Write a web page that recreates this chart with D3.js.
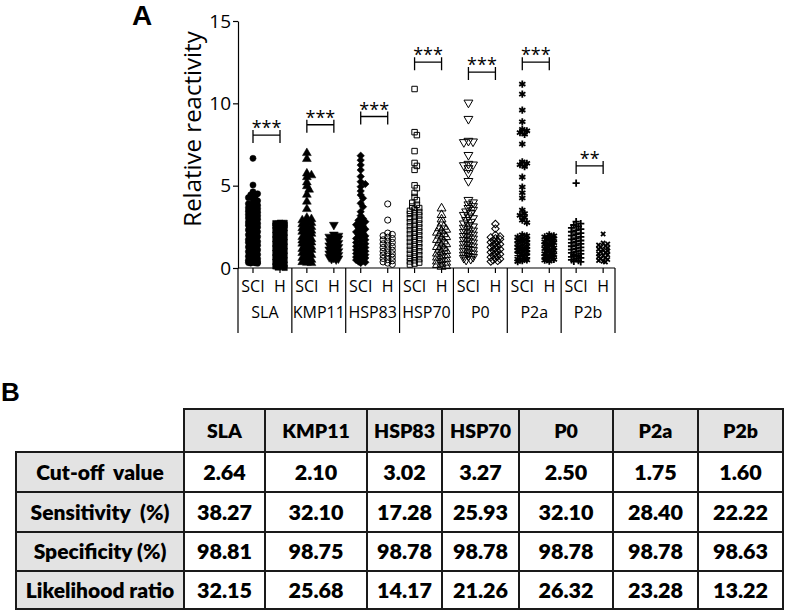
<!DOCTYPE html>
<html>
<head>
<meta charset="utf-8">
<script src="https://cdn.jsdelivr.net/npm/d3@7"></script>
<style>
  body { margin: 0; background: #fff; }
  svg  { display: block; font-family: "Open Sans", sans-serif; }
</style>
</head>
<body>
<script>
(function() {

/* data */
var groups   = ["SLA", "KMP11", "HSP83", "HSP70", "P0", "P2a", "P2b"],
    subjects = ["SCI", "H"],
    yTicks   = [0, 5, 10, 15];

var sciSLA = [6.66, 5.04, 4.63, 4.51, 4.44, 4.36, 4.27, 4.19, 4.08, 3.96, 3.9, 3.81, 3.74, 3.66, 3.6, 3.52, 3.45, 3.38, 3.3, 3.24, 3.17, 3.09, 3.03, 2.96, 2.9, 2.85, 2.79, 2.74, 2.71, 2.68, 2.66, 2.6, 2.54, 2.48, 2.43, 2.37, 2.31, 2.26, 2.2, 2.13, 2.07, 2.02, 1.96, 1.9, 1.84, 1.79, 1.73, 1.66, 1.61, 1.55, 1.49, 1.44, 1.38, 1.33, 1.27, 1.21, 1.16, 1.1, 1.04, 0.99, 0.93, 0.88, 0.82, 0.77, 0.71, 0.66, 0.61, 0.56, 0.52, 0.47, 0.43, 0.4, 0.37, 0.35, 0.33, 0.31, 0.3, 0.29];
var hSLA = [2.75, 2.74, 2.72, 2.71, 2.69, 2.66, 2.61, 2.57, 2.52, 2.46, 2.41, 2.35, 2.3, 2.24, 2.19, 2.13, 2.08, 2.02, 1.97, 1.91, 1.86, 1.8, 1.75, 1.69, 1.64, 1.58, 1.53, 1.47, 1.42, 1.36, 1.31, 1.25, 1.2, 1.14, 1.09, 1.03, 0.98, 0.92, 0.87, 0.81, 0.76, 0.7, 0.65, 0.59, 0.54, 0.48, 0.43, 0.37, 0.32, 0.26, 0.21, 0.15, 0.1, 0.06, 0.03, 0.01];
var sciKMP11 = [6.98, 6.62, 5.74, 5.63, 5.52, 5.2, 4.97, 4.76, 4.45, 4.03, 3.58, 3.05, 2.97, 2.9, 2.82, 2.74, 2.66, 2.57, 2.49, 2.42, 2.34, 2.27, 2.2, 2.14, 2.08, 2.01, 1.95, 1.88, 1.81, 1.75, 1.68, 1.61, 1.55, 1.48, 1.42, 1.35, 1.29, 1.22, 1.16, 1.1, 1.03, 0.97, 0.91, 0.85, 0.79, 0.73, 0.67, 0.61, 0.55, 0.5, 0.45, 0.4, 0.36, 0.32, 0.3];
var hKMP11 = [2.62, 2.03, 1.96, 1.9, 1.85, 1.79, 1.74, 1.68, 1.63, 1.58, 1.52, 1.47, 1.42, 1.37, 1.32, 1.27, 1.22, 1.17, 1.12, 1.07, 1.02, 0.97, 0.92, 0.88, 0.83, 0.79, 0.74, 0.7, 0.66, 0.62, 0.58, 0.55, 0.52];
var sciHSP83 = [6.82, 6.55, 6.25, 5.95, 5.55, 5.24, 5.1, 4.94, 4.67, 4.43, 4.23, 3.93, 3.72, 3.42, 3.18, 3.0, 2.9, 2.81, 2.72, 2.63, 2.54, 2.45, 2.36, 2.28, 2.19, 2.11, 2.03, 1.95, 1.87, 1.79, 1.71, 1.63, 1.55, 1.47, 1.4, 1.32, 1.24, 1.17, 1.09, 1.02, 0.95, 0.88, 0.81, 0.74, 0.67, 0.61, 0.55, 0.49, 0.44, 0.39, 0.35, 0.31];
var hHSP83 = [3.89, 2.91, 2.12, 2.04, 1.96, 1.87, 1.79, 1.71, 1.63, 1.55, 1.47, 1.39, 1.31, 1.24, 1.16, 1.08, 1.01, 0.93, 0.86, 0.79, 0.72, 0.65, 0.58, 0.51, 0.44, 0.37, 0.3, 0.22];
var sciHSP70 = [10.87, 8.25, 8.07, 7.1, 6.38, 6.2, 5.96, 5.02, 4.85, 4.56, 4.31, 4.12, 3.96, 3.84, 3.73, 3.64, 3.55, 3.47, 3.4, 3.33, 3.28, 3.19, 3.1, 3.02, 2.94, 2.86, 2.78, 2.7, 2.62, 2.54, 2.46, 2.38, 2.3, 2.22, 2.14, 2.06, 1.98, 1.9, 1.82, 1.74, 1.66, 1.58, 1.5, 1.42, 1.34, 1.26, 1.18, 1.1, 1.02, 0.94, 0.86, 0.78, 0.7, 0.62, 0.54, 0.47, 0.4, 0.33, 0.27, 0.21];
var hHSP70 = [3.62, 3.22, 2.95, 2.71, 2.51, 2.42, 2.33, 2.24, 2.15, 2.06, 1.97, 1.88, 1.8, 1.71, 1.62, 1.54, 1.45, 1.37, 1.28, 1.2, 1.12, 1.04, 0.96, 0.88, 0.8, 0.72, 0.64, 0.56, 0.48, 0.4, 0.33, 0.26, 0.19, 0.12, 0.08];
var sciP0 = [10.04, 9.05, 7.72, 7.68, 7.64, 6.86, 6.32, 6.28, 6.24, 6.06, 5.76, 5.28, 4.13, 3.98, 3.86, 3.75, 3.64, 3.53, 3.43, 3.33, 3.22, 3.12, 3.02, 2.91, 2.8, 2.7, 2.6, 2.52, 2.44, 2.35, 2.27, 2.19, 2.1, 2.02, 1.94, 1.86, 1.78, 1.7, 1.62, 1.54, 1.46, 1.38, 1.3, 1.23, 1.15, 1.08, 1.01, 0.94, 0.87, 0.8, 0.73, 0.67, 0.61, 0.55, 0.5];
var hP0 = [2.67, 2.39, 2.01, 1.92, 1.86, 1.8, 1.74, 1.68, 1.62, 1.56, 1.5, 1.44, 1.38, 1.32, 1.26, 1.2, 1.14, 1.08, 1.02, 0.96, 0.9, 0.84, 0.78, 0.72, 0.66, 0.6, 0.54, 0.48, 0.43, 0.39];
var sciP2a = [11.17, 10.56, 9.59, 8.88, 8.42, 8.33, 8.22, 8.12, 7.53, 6.45, 6.36, 6.27, 6.16, 5.52, 4.92, 4.57, 4.25, 3.52, 3.31, 3.2, 3.08, 2.9, 2.76, 2.02, 1.95, 1.88, 1.81, 1.74, 1.67, 1.6, 1.53, 1.46, 1.39, 1.32, 1.26, 1.19, 1.12, 1.05, 0.99, 0.92, 0.85, 0.79, 0.72, 0.66, 0.6, 0.54, 0.49, 0.44, 0.39];
var hP2a = [2.02, 1.95, 1.89, 1.83, 1.77, 1.71, 1.65, 1.59, 1.53, 1.47, 1.41, 1.35, 1.29, 1.23, 1.17, 1.11, 1.05, 0.99, 0.93, 0.87, 0.81, 0.75, 0.69, 0.63, 0.57, 0.52, 0.47, 0.42];
var sciP2b = [5.15, 2.82, 2.7, 2.61, 2.52, 2.44, 2.36, 2.28, 2.2, 2.12, 2.05, 1.97, 1.89, 1.82, 1.74, 1.67, 1.6, 1.53, 1.46, 1.39, 1.32, 1.25, 1.18, 1.12, 1.05, 0.98, 0.92, 0.86, 0.79, 0.73, 0.67, 0.61, 0.55, 0.49, 0.44, 0.4, 0.37];
var hP2b = [2.06, 1.52, 1.46, 1.4, 1.34, 1.28, 1.22, 1.16, 1.1, 1.04, 0.98, 0.92, 0.86, 0.8, 0.74, 0.68, 0.62, 0.56, 0.51, 0.46, 0.41, 0.37];

var sigLabels  = ["***", "***", "***", "***", "***", "***", "**"],
    sigHeights = [8.07, 8.7, 9.2, 12.5, 11.9, 12.5, 6.2];

var rowLabels   = ["Cut-off  value", "Sensitivity  (%)", "Specificity (%)", "Likelihood ratio"],
    cutoff      = [2.64, 2.10, 3.02, 3.27, 2.50, 1.75, 1.60],
    sensitivity = [38.27, 32.10, 17.28, 25.93, 32.10, 28.40, 22.22],
    specificity = [98.81, 98.75, 98.78, 98.78, 98.78, 98.78, 98.63],
    likelihood  = [32.15, 25.68, 14.17, 21.26, 26.32, 23.28, 13.22];

var columns = [
  [sciSLA, hSLA], [sciKMP11, hKMP11], [sciHSP83, hHSP83], [sciHSP70, hHSP70],
  [sciP0, hP0], [sciP2a, hP2a], [sciP2b, hP2b]
];
var tableRows = [cutoff, sensitivity, specificity, likelihood];

/* marker per group: [SCI, H] */
var markers = [
  [{s: "circle", f: 1}, {s: "square", f: 1}],
  [{s: "tri", f: 1}, {s: "triDown", f: 1}],
  [{s: "diamond", f: 1}, {s: "circle", f: 0}],
  [{s: "square", f: 0}, {s: "tri", f: 0}],
  [{s: "triDown", f: 0}, {s: "diamond", f: 0}],
  [{s: "asterisk", f: 0}, {s: "asterisk", f: 0}],
  [{s: "plus", f: 0}, {s: "times", f: 0}]
];

var width = 789, height = 613;

var svg = d3.select("body").append("svg")
    .attr("width", width)
    .attr("height", height);

var y  = d3.scaleLinear().domain([0, 15]).range([268, 21]),
    xg = d3.scaleBand().domain(groups).range([238, 615]),
    xs = d3.scalePoint().domain(subjects).range([15, 42]);

function lines(r, angles) {
  return angles.map(function(a) {
    var c = Math.cos(a * Math.PI / 180) * r, s = Math.sin(a * Math.PI / 180) * r;
    return "M" + (-c) + "," + (-s) + "L" + c + "," + s;
  }).join("");
}

function markerPath(name) {
  switch (name) {
    case "circle":   return d3.symbol().type(d3.symbolCircle).size(30)();
    case "square":   return d3.symbol().type(d3.symbolSquare).size(30)();
    case "diamond":  return d3.symbol().type(d3.symbolSquare).size(28)();
    case "tri":
    case "triDown":  return d3.symbol().type(d3.symbolTriangle).size(34)();
    case "asterisk": return lines(3.6, [90, 30, -30]);
    case "plus":     return lines(3.6, [0, 90]);
    case "times":    return lines(3, [45, 135]);
  }
}

function markerRot(name) {
  return name === "diamond" ? 45 : name === "triDown" ? 180 : 0;
}

/* spread points sideways so they do not pile up */
function swarm(vals, cx) {
  var placed = [], offs = [0, 2.3, -2.3, 4.6, -4.6];
  vals.slice().sort(d3.descending).forEach(function(v) {
    var py = y(v), best = cx, bestD = -1;
    for (var i = 0; i < offs.length; i++) {
      var px = cx + offs[i], dmin = Infinity;
      placed.forEach(function(p) {
        var d = Math.hypot(p[0] - px, p[1] - py);
        if (d < dmin) dmin = d;
      });
      if (dmin >= 3.6) { best = px; break; }
      if (dmin > bestD) { bestD = dmin; best = px; }
    }
    placed.push([best, py]);
  });
  return placed;
}

/* panel A */
svg.append("text")
    .attr("x", 132).attr("y", 25)
    .style("font-family", "'Liberation Sans', Arial, sans-serif")
    .style("font-weight", "bold").style("font-size", "28px")
    .text("A");

var yAxis = svg.append("g")
    .attr("transform", "translate(238,0)")
    .call(d3.axisLeft(y).tickValues(yTicks).tickSize(5).tickSizeOuter(0).tickPadding(2));
yAxis.selectAll("text").style("font-size", "19px").style("font-family", "'Open Sans', sans-serif").attr("fill", "#000");
yAxis.selectAll("line, path").attr("stroke", "#000").attr("stroke-width", 1.2);

svg.append("text")
    .attr("transform", "translate(201,129) rotate(-90)")
    .attr("text-anchor", "middle")
    .style("font-size", "24px")
    .text("Relative reactivity");

/* x axis with group separators */
var axisG = svg.append("g").attr("stroke", "#000").attr("stroke-width", 1.2);
axisG.append("line").attr("x1", 238).attr("x2", 615).attr("y1", y(0)).attr("y2", y(0));
axisG.append("line").attr("x1", 238).attr("x2", 238).attr("y1", y(0)).attr("y2", 333);
groups.forEach(function(g) {
  var x0 = xg(g);
  axisG.append("line").attr("x1", x0 + xg.bandwidth()).attr("x2", x0 + xg.bandwidth())
      .attr("y1", y(0)).attr("y2", 333);
  subjects.forEach(function(s) {
    axisG.append("line").attr("x1", x0 + xs(s)).attr("x2", x0 + xs(s))
        .attr("y1", y(0)).attr("y2", y(0) + 5);
    svg.append("text").attr("x", x0 + xs(s)).attr("y", 292)
        .attr("text-anchor", "middle").style("font-size", "16px").text(s);
  });
  svg.append("text").attr("x", x0 + xg.bandwidth() / 2).attr("y", 318)
      .attr("text-anchor", "middle").style("font-size", "16px").text(g);
});

/* points */
columns.forEach(function(pair, gi) {
  pair.forEach(function(vals, si) {
    var m = markers[gi][si],
        cx = xg(groups[gi]) + xs(subjects[si]),
        stroked = ["asterisk", "plus", "times"].indexOf(m.s) >= 0;
    svg.append("g").selectAll("path")
      .data(swarm(vals, cx))
      .enter()
      .append("path")
        .attr("d", markerPath(m.s))
        .attr("transform", function(d) { return "translate(" + d[0] + "," + d[1] + ") rotate(" + markerRot(m.s) + ")"; })
        .attr("fill", m.f ? "#000" : "none")
        .attr("stroke", "#000")
        .attr("stroke-width", stroked ? 1.8 : (m.f ? 0.5 : 1));
  });
});

/* significance brackets */
groups.forEach(function(g, i) {
  var x1 = xg(g) + xs("SCI"), x2 = xg(g) + xs("H"), yl = y(sigHeights[i]);
  svg.append("path")
      .attr("d", "M" + x1 + "," + (yl - 5) + "V" + (yl + 8) + "M" + x1 + "," + yl + "H" + x2 +
                 "M" + x2 + "," + (yl - 5) + "V" + (yl + 8))
      .attr("fill", "none").attr("stroke", "#000").attr("stroke-width", 1.3);
  svg.append("text").attr("x", (x1 + x2) / 2).attr("y", yl - 1)
      .attr("text-anchor", "middle").style("font-size", "18px").text(sigLabels[i]);
});

/* panel B */
svg.append("text")
    .attr("x", 1).attr("y", 401)
    .style("font-family", "'Liberation Sans', Arial, sans-serif")
    .style("font-weight", "bold").style("font-size", "26px")
    .text("B");

var colX = [16, 184, 265, 367, 442, 519, 613, 698, 783],
    rowY = [409, 452, 492, 532, 571, 609];

var table = svg.append("g").style("font-family", "Lato, 'Open Sans', sans-serif").style("font-weight", 800);

function cell(c, r, fill, txt, size) {
  table.append("rect")
      .attr("x", colX[c]).attr("y", rowY[r])
      .attr("width", colX[c + 1] - colX[c]).attr("height", rowY[r + 1] - rowY[r])
      .attr("fill", fill).attr("stroke", "#1a1a1a").attr("stroke-width", 2);
  table.append("text")
      .attr("x", (colX[c] + colX[c + 1]) / 2).attr("y", (rowY[r] + rowY[r + 1]) / 2)
      .attr("dy", "0.36em").attr("text-anchor", "middle")
      .style("font-size", size + "px").style("white-space", "pre")
      .text(txt);
}

var fmt = d3.format(".2f");
groups.forEach(function(g, i) { cell(i + 1, 0, "#e3e3e3", g, 19.5); });
rowLabels.forEach(function(lab, r) {
  cell(0, r + 1, "#e3e3e3", lab, 21);
  tableRows[r].forEach(function(v, i) { cell(i + 1, r + 1, "#fff", fmt(v), 21.5); });
});

}());
</script>
</body>
</html>
